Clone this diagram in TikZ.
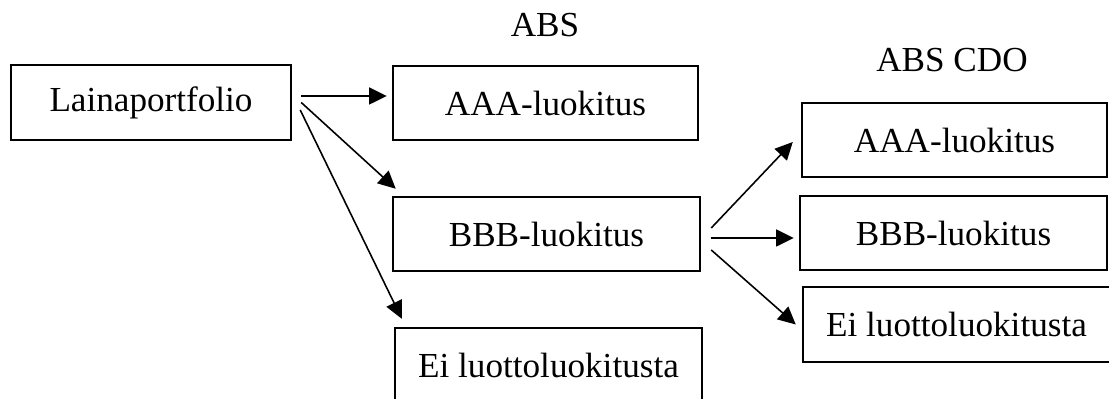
\documentclass[tikz,border=0pt]{standalone}
\usepackage{fontspec}
\setmainfont{Liberation Serif}
\usepackage{tikz}
\usetikzlibrary{arrows.meta}
\tikzset{
  box/.style={draw=black, line width=0.7pt, minimum width=3.05cm, minimum height=0.74cm, inner sep=0pt},
  arr/.style={draw=black, line width=0.45pt, -{Triangle[length=5pt,width=4.8pt]}},
  lab/.style={anchor=base, inner sep=0pt},
}
\begin{document}
\begin{tikzpicture}
  \useasboundingbox (0,0) rectangle (11.09,3.99);
  % source
  \node[box,minimum width=2.80cm,minimum height=0.75cm] (laina) at (1.51,2.965) {Lainaportfolio};
  % ABS
  \node[lab] (abs) at (5.45,3.62) {ABS};
  \node[box] (absA) at (5.455,2.96) {AAA-luokitus};
  \node[box,minimum width=3.07cm] (absB) at (5.465,1.65) {BBB-luokitus};
  \node[box,minimum width=3.07cm] (absE) at (5.485,0.34) {Ei luottoluokitusta};
  % ABS CDO
  \node[lab] (cdo) at (9.52,3.27) {ABS CDO};
  \node[box] (cdoA) at (9.545,2.59) {AAA-luokitus};
  \node[box,minimum width=3.07cm] (cdoB) at (9.535,1.66) {BBB-luokitus};
  \node[box,minimum width=3.07cm,minimum height=0.75cm] (cdoE) at (9.565,0.745) {Ei luottoluokitusta};
  % arrows
  \draw[arr] ([shift={(0.09,0.065)}]laina.east) -- ([shift={(-0.05,0.07)}]absA.west);
  \draw[arr] ([shift={(0.09,0)}]laina.east) -- ([shift={(0.04,0.07)}]absB.north west);
  \draw[arr] ([shift={(0.08,-0.075)}]laina.east) -- ([shift={(0.08,0.08)}]absE.north west);
  \draw[arr] ([shift={(0.10,0.06)}]absB.east) -- ([shift={(-0.08,-0.02)}]cdoA.west);
  \draw[arr] ([shift={(0.10,-0.04)}]absB.east) -- ([shift={(-0.05,-0.05)}]cdoB.west);
  \draw[arr] ([shift={(0.10,-0.16)}]absB.east) -- ([shift={(-0.06,0)}]cdoE.west);
\end{tikzpicture}
\end{document}
